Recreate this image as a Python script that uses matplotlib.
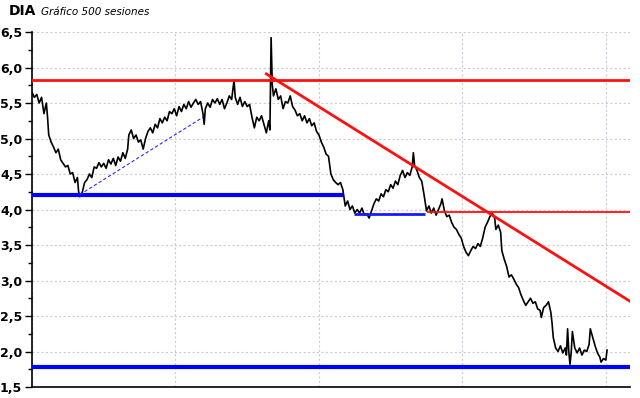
import matplotlib
matplotlib.use("Agg")
import matplotlib.pyplot as plt
from matplotlib.ticker import MultipleLocator, FuncFormatter

# sesiones y cierres
sesion = [0, 2, 4, 6, 8, 10, 12, 13, 14, 16, 18, 20, 22, 24, 26, 28, 30, 32, 34, 36,
          38, 39, 40, 42, 44, 46, 48, 50, 52, 54, 56, 58, 60, 62, 64, 66, 68, 70, 72,
          74, 76, 78, 80, 81, 83, 85, 87, 89, 91, 93, 95, 97, 99, 101, 103, 105, 107,
          109, 111, 113, 115, 117, 119, 121, 123, 125, 127, 129, 131, 133, 135, 137,
          139, 141, 143, 144, 145, 147, 149, 151, 153, 155, 157, 159, 161, 163, 165,
          167, 168, 169, 170, 172, 174, 176, 178, 180, 182, 184, 186, 188, 190, 192,
          194, 196, 198, 199, 200, 201, 202, 204, 206, 208, 210, 212, 214, 216, 218,
          220, 222, 224, 226, 228, 230, 232, 234, 236, 238, 240, 242, 244, 246, 248,
          250, 252, 254, 256, 258, 260, 262, 264, 266, 268, 270, 272, 274, 276, 278,
          280, 282, 284, 286, 288, 290, 292, 294, 296, 298, 300, 302, 304, 306, 308,
          310, 312, 314, 316, 318, 319, 320, 322, 324, 326, 328, 330, 332, 334, 336,
          338, 340, 342, 343, 345, 347, 349, 351, 353, 355, 357, 359, 361, 363, 365,
          367, 369, 371, 373, 375, 377, 379, 381, 383, 385, 387, 388, 390, 392, 393,
          395, 397, 399, 401, 403, 405, 407, 409, 411, 413, 415, 417, 419, 421, 423,
          425, 426, 428, 430, 432, 434, 435, 436, 438, 440, 442, 444, 446, 447, 448,
          449, 450, 451, 452, 454, 456, 458, 460, 462, 464, 466, 467, 469, 471, 473,
          475, 476, 478, 480, 481]
precio = [5.65, 5.58, 5.62, 5.5, 5.58, 5.35, 5.5, 5.3, 5.05, 4.95, 4.88, 4.8, 4.85,
          4.7, 4.65, 4.6, 4.62, 4.5, 4.52, 4.38, 4.45, 4.25, 4.18, 4.24, 4.38, 4.42,
          4.5, 4.45, 4.6, 4.58, 4.66, 4.6, 4.65, 4.58, 4.7, 4.64, 4.72, 4.62, 4.74,
          4.68, 4.8, 4.72, 4.85, 5.05, 5.12, 5.0, 5.05, 4.95, 4.98, 4.85, 5.0, 5.1,
          5.15, 5.08, 5.2, 5.15, 5.28, 5.22, 5.3, 5.25, 5.38, 5.35, 5.42, 5.32, 5.45,
          5.38, 5.48, 5.42, 5.52, 5.44, 5.5, 5.55, 5.48, 5.52, 5.35, 5.2, 5.42, 5.5,
          5.44, 5.55, 5.5, 5.56, 5.48, 5.55, 5.42, 5.5, 5.6, 5.55, 5.68, 5.82, 5.58,
          5.48, 5.58, 5.45, 5.52, 5.45, 5.48, 5.3, 5.15, 5.3, 5.25, 5.32, 5.2, 5.08,
          5.25, 5.12, 6.42, 5.75, 5.6, 5.7, 5.55, 5.6, 5.42, 5.52, 5.5, 5.6, 5.45,
          5.4, 5.32, 5.35, 5.25, 5.32, 5.22, 5.28, 5.18, 5.22, 5.1, 5.05, 4.95, 4.88,
          4.78, 4.75, 4.5, 4.42, 4.38, 4.35, 4.38, 4.28, 4.05, 4.12, 4.0, 4.05, 3.95,
          4.0, 3.95, 4.02, 3.92, 3.94, 3.88, 3.98, 4.08, 4.15, 4.12, 4.22, 4.18, 4.28,
          4.25, 4.35, 4.3, 4.4, 4.35, 4.48, 4.55, 4.45, 4.52, 4.48, 4.6, 4.8, 4.62,
          4.55, 4.45, 4.4, 4.2, 3.98, 4.05, 3.95, 4.02, 3.92, 4.0, 4.08, 4.15, 3.98,
          3.9, 3.92, 3.82, 3.75, 3.72, 3.65, 3.6, 3.48, 3.4, 3.35, 3.42, 3.48, 3.45,
          3.52, 3.48, 3.6, 3.75, 3.82, 3.9, 3.95, 3.88, 3.72, 3.78, 3.68, 3.42, 3.3,
          3.2, 3.05, 3.08, 3.02, 2.95, 2.9, 2.8, 2.72, 2.65, 2.7, 2.75, 2.68, 2.7,
          2.6, 2.58, 2.48, 2.62, 2.65, 2.7, 2.55, 2.4, 2.2, 2.05, 2.0, 2.08, 1.98,
          2.05, 1.95, 2.32, 2.0, 1.82, 1.98, 2.28, 2.05, 1.98, 2.05, 1.95, 2.02, 2.0,
          2.1, 2.32, 2.2, 2.08, 1.98, 1.92, 1.85, 1.9, 1.88, 2.02]

# niveles y lineas de tendencia
resist_alta = 5.82
resist_media = 3.96
soporte_alto = 4.21
soporte_medio = 3.93
soporte_bajo = 1.78
tend_bajista_x = [196, 500]
tend_bajista_y = [5.91, 2.71]
tend_alcista_x = [40, 143]
tend_alcista_y = [4.21, 5.30]

N_SESIONES = 500

fig = plt.figure(figsize=(6.4, 3.98), dpi=100)
ax = fig.add_axes([0.05, 0.0276, 0.934, 0.892])

ax.plot(sesion, precio, color="black", linewidth=1.2, zorder=3)

ax.axhline(resist_alta, color="#ff1010", linewidth=2, zorder=4)
ax.hlines(resist_media, 330, N_SESIONES, color="#ff1010", linewidth=1.3, zorder=4)
ax.plot(tend_bajista_x, tend_bajista_y, color="#ff1010", linewidth=2, zorder=4)
ax.hlines(soporte_alto, 0, 260, color="#0000ff", linewidth=3, zorder=4)
ax.hlines(soporte_medio, 269, 329, color="#1a1aff", linewidth=2, zorder=4)
ax.axhline(soporte_bajo, color="#0000ff", linewidth=3, zorder=4)
ax.plot(tend_alcista_x, tend_alcista_y, color="#2a2aff", linewidth=0.8,
        linestyle=(0, (3, 2)), zorder=4)

ax.set_xlim(0, N_SESIONES)
ax.set_ylim(1.5, 6.5)

ax.yaxis.set_major_locator(MultipleLocator(0.5))
ax.yaxis.set_minor_locator(MultipleLocator(0.25))
ax.yaxis.set_major_formatter(FuncFormatter(lambda v, p: f"{v:.1f}".replace(".", ",")))
ax.set_xticks([0, 120, 240, 360, 480])
ax.tick_params(axis="x", length=0, labelbottom=False)
ax.tick_params(axis="y", which="major", length=5, width=1, labelsize=9, pad=2)
ax.tick_params(axis="y", which="minor", length=3, width=1)
for lbl in ax.get_yticklabels():
    lbl.set_fontweight("bold")

ax.grid(True, which="major", color="#d4c8d8", linestyle=(0, (2, 2)), linewidth=0.8)
ax.set_axisbelow(True)
for s in ("top", "right"):
    ax.spines[s].set_visible(False)
ax.spines["left"].set_linewidth(1.2)
ax.spines["bottom"].set_linewidth(1.2)

fig.text(0.014, 0.972, "DIA", fontsize=10, fontweight="bold", va="center")
fig.text(0.064, 0.970, "Gráfico 500 sesiones", fontsize=7.5, style="italic", va="center")

fig.savefig("out.png", dpi=100)
